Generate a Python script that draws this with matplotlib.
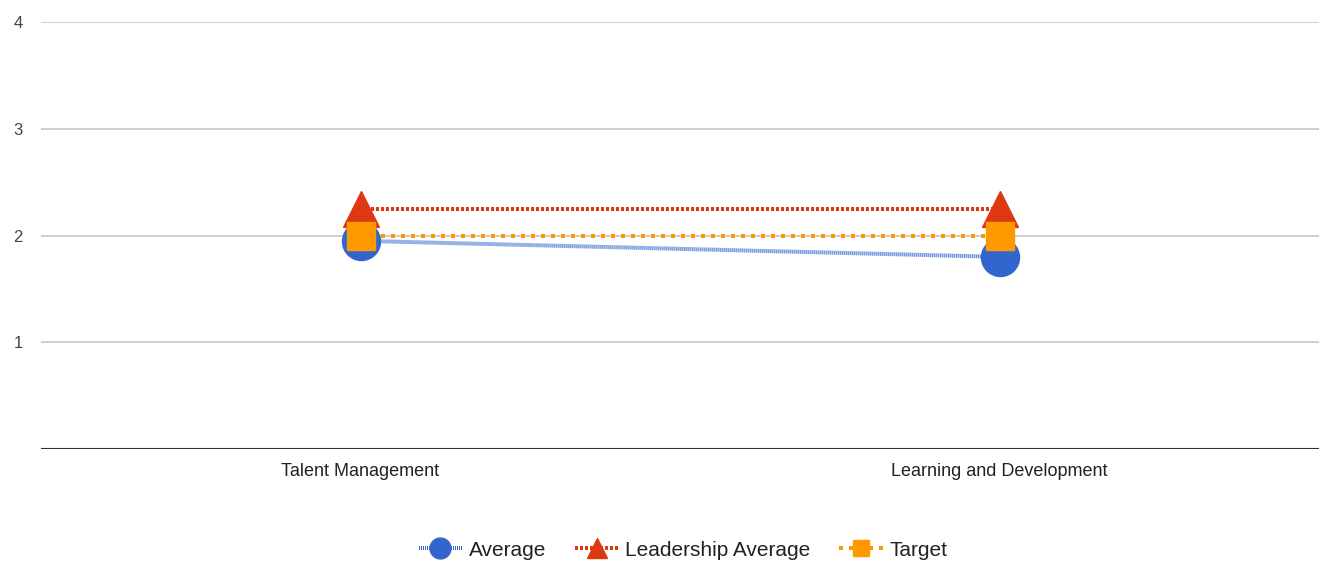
import matplotlib
matplotlib.use("Agg")
from matplotlib import pyplot as plt

plt.rcParams["font.family"] = ["Liberation Sans", "DejaVu Sans"]
plt.rcParams["lines.scale_dashes"] = False

categories = ["Talent Management", "Learning and Development"]
average = [1.95, 1.8]
leadership_avg = [2.25, 2.25]
target = [2.0, 2.0]

W, H = 1319, 573
fig = plt.figure(figsize=(W / 100, H / 100), dpi=100)
ax = fig.add_axes([41 / W, 1 - 449 / H, 1 - 41 / W, (449 - 22) / H])

x = [0, 1]
px = 72 / 100  # points per pixel

ax.plot(x, average, color="#3366cc", lw=4 * px, dashes=(1 * px, 1 * px),
        marker="o", markersize=38 * px, label="Average", zorder=3)
ax.plot(x, leadership_avg, color="#dc3912", lw=4 * px, dashes=(3 * px, 2 * px),
        marker="^", markersize=36 * px, label="Leadership Average", zorder=4)
ax.plot(x, target, color="#ff9900", lw=4 * px, dashes=(4 * px, 6 * px),
        marker="s", markersize=28 * px, label="Target", zorder=5)

ax.set_xlim(-0.5, 1.5)
ax.set_ylim(0, 4)
ax.set_yticks([1, 2, 3, 4])
ax.set_xticks(x)
ax.set_xticklabels(categories)
ax.grid(axis="y", color="#cccccc", lw=1.3)
ax.axhline(0, color="#333333", lw=1.5, zorder=2)
for s in ax.spines.values():
    s.set_visible(False)
ax.tick_params(axis="both", length=0, colors="#444444")
ax.tick_params(axis="y", pad=13, labelsize=12)
ax.tick_params(axis="x", pad=10, labelsize=13, labelcolor="#222222")

fig.legend(loc="center", bbox_to_anchor=(683 / W, 1 - 550 / H), ncol=3,
           frameon=False, fontsize=15, handlelength=2.1, columnspacing=1.4,
           handletextpad=0.3, markerscale=0.55, labelcolor="#222222")

fig.savefig("out.png", dpi=100)
